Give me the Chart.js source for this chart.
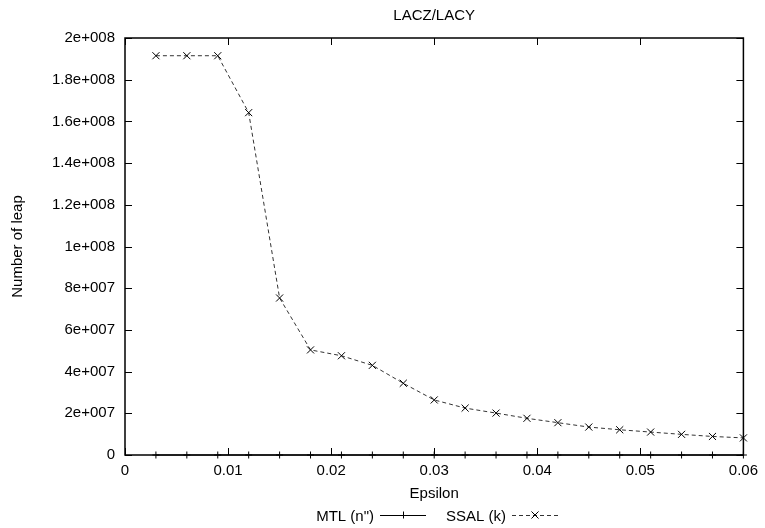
<!DOCTYPE html>
<html>
<head>
<meta charset="utf-8">
<script src="https://cdn.jsdelivr.net/npm/chart.js@4/dist/chart.umd.min.js"></script>
<style>
  html, body { margin: 0; padding: 0; background: #fff; }
  #wrap { width: 765px; height: 528px; }
</style>
</head>
<body>
<div id="wrap"><canvas id="c" width="765" height="528"></canvas></div>
<script>
// Epsilon values sampled along the x axis
const epsilon = [0.003, 0.006, 0.009, 0.012, 0.015, 0.018, 0.021, 0.024, 0.027, 0.030,
                 0.033, 0.036, 0.039, 0.042, 0.045, 0.048, 0.051, 0.054, 0.057, 0.060];
// Number of leaps per method
const mtlLeaps  = [0, 0, 0, 0, 0, 0, 0, 0, 0, 0, 0, 0, 0, 0, 0, 0, 0, 0, 0, 0];
const ssalLeaps = [1.915e8, 1.915e8, 1.915e8, 1.642e8, 7.53e7, 5.04e7, 4.76e7, 4.30e7, 3.44e7, 2.64e7,
                   2.25e7, 2.01e7, 1.76e7, 1.55e7, 1.34e7, 1.21e7, 1.10e7, 9.9e6, 8.9e6, 8.2e6];
const seriesNames = ['MTL (n")', 'SSAL (k)'];
const xTickLabels = ['0', '0.01', '0.02', '0.03', '0.04', '0.05', '0.06'];
const yTickLabels = ['0', '2e+007', '4e+007', '6e+007', '8e+007', '1e+008',
                     '1.2e+008', '1.4e+008', '1.6e+008', '1.8e+008', '2e+008'];
const chartTitle = 'LACZ/LACY';
const xTitle = 'Epsilon';
const yTitle = 'Number of leap';

const FAMILY = '"Liberation Sans", Arial, Helvetica, sans-serif';
const SIZE = 15;
const FONT = SIZE + 'px ' + FAMILY;

// gnuplot-like frame, inward tick marks, title and key below the plot
const gnuplotDecor = {
  id: 'gnuplotDecor',
  afterDatasetsDraw(chart) {
    const { ctx, chartArea: a, scales: { x, y } } = chart;
    ctx.save();
    ctx.strokeStyle = '#000';
    ctx.lineWidth = 1;
    ctx.beginPath();
    y.ticks.forEach(t => {
      const py = Math.round(y.getPixelForValue(t.value)) + 0.5;
      ctx.moveTo(a.left, py);  ctx.lineTo(a.left + 7, py);
      ctx.moveTo(a.right, py); ctx.lineTo(a.right - 7, py);
    });
    x.ticks.forEach(t => {
      const px = Math.round(x.getPixelForValue(t.value)) + 0.5;
      ctx.moveTo(px, a.bottom); ctx.lineTo(px, a.bottom - 7);
      ctx.moveTo(px, a.top);    ctx.lineTo(px, a.top + 7);
    });
    ctx.stroke();
    ctx.lineWidth = 1.5;
    ctx.strokeRect(a.left, a.top, a.right - a.left, a.bottom - a.top);

    // title
    ctx.fillStyle = '#000';
    ctx.font = FONT;
    ctx.textAlign = 'center';
    ctx.textBaseline = 'alphabetic';
    ctx.fillText(chartTitle, (a.left + a.right) / 2, 20);

    // key: label right-aligned, then line sample with its marker
    const keyY = 515;
    chart.data.datasets.forEach((ds, i) => {
      const textRight = 374 + 132 * i;
      ctx.textAlign = 'right';
      ctx.textBaseline = 'alphabetic';
      ctx.fillText(ds.label, textRight, 521);
      const x0 = textRight + 6, x1 = textRight + 52, xm = (x0 + x1) / 2;
      ctx.strokeStyle = ds.borderColor;
      ctx.lineWidth = ds.borderWidth;
      ctx.setLineDash(ds.borderDash || []);
      ctx.beginPath();
      ctx.moveTo(x0, keyY + 0.5);
      ctx.lineTo(x1, keyY + 0.5);
      ctx.stroke();
      ctx.setLineDash([]);
      ctx.strokeStyle = ds.pointBorderColor;
      ctx.lineWidth = 1;
      const r = ds.pointRadius;
      ctx.beginPath();
      if (ds.pointStyle === 'cross') {
        ctx.moveTo(xm - r, keyY + 0.5); ctx.lineTo(xm + r, keyY + 0.5);
        ctx.moveTo(xm + 0.5, keyY - r); ctx.lineTo(xm + 0.5, keyY + r);
      } else {
        const d = r * Math.SQRT1_2;
        ctx.moveTo(xm - d, keyY - d); ctx.lineTo(xm + d, keyY + d);
        ctx.moveTo(xm - d, keyY + d); ctx.lineTo(xm + d, keyY - d);
      }
      ctx.stroke();
    });
    ctx.restore();
  }
};

const toPoints = ys => epsilon.map((e, i) => ({ x: e, y: ys[i] }));

new Chart(document.getElementById('c'), {
  type: 'line',
  data: {
    datasets: [
      {
        label: seriesNames[0],
        data: toPoints(mtlLeaps),
        borderColor: '#000',
        borderWidth: 1,
        pointStyle: 'cross',
        pointRadius: 3.5,
        pointBorderColor: '#000',
        pointBorderWidth: 1,
        pointBackgroundColor: '#000',
        tension: 0,
        clip: false
      },
      {
        label: seriesNames[1],
        data: toPoints(ssalLeaps),
        borderColor: '#333',
        borderWidth: 1,
        borderDash: [4, 3],
        pointStyle: 'crossRot',
        pointRadius: 5,
        pointBorderColor: '#000',
        pointBorderWidth: 1,
        pointBackgroundColor: '#000',
        tension: 0,
        clip: false
      }
    ]
  },
  options: {
    responsive: false,
    animation: false,
    events: [],
    layout: { padding: { top: 38, right: 19, bottom: 0, left: 0 } },
    plugins: {
      legend: { display: false },
      title: { display: false },
      tooltip: { enabled: false }
    },
    scales: {
      x: {
        type: 'linear',
        min: 0,
        max: 0.06,
        grid: { display: false, drawTicks: false },
        border: { display: false },
        ticks: {
          stepSize: 0.01,
          autoSkip: false,
          maxRotation: 0,
          padding: 7,
          color: '#000',
          font: { family: FAMILY, size: SIZE },
          callback: (v, i) => xTickLabels[i]
        },
        title: {
          display: true,
          text: xTitle,
          color: '#000',
          font: { family: FAMILY, size: SIZE },
          padding: { top: 0, bottom: 25 }
        },
        afterFit: s => { s.height = 73; }
      },
      y: {
        type: 'linear',
        min: 0,
        max: 2e8,
        grid: { display: false, drawTicks: false },
        border: { display: false },
        ticks: {
          stepSize: 2e7,
          autoSkip: false,
          padding: 10,
          color: '#000',
          font: { family: FAMILY, size: SIZE },
          callback: (v, i) => yTickLabels[i]
        },
        title: {
          display: true,
          text: yTitle,
          color: '#000',
          font: { family: FAMILY, size: SIZE },
          padding: { top: 9, bottom: 0 }
        },
        afterFit: s => { s.width = 125; }
      }
    }
  },
  plugins: [gnuplotDecor]
});
</script>
</body>
</html>
